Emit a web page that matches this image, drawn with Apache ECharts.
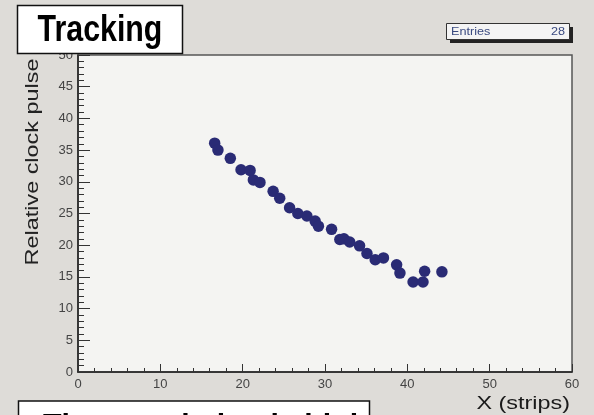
<!DOCTYPE html>
<html>
<head>
<meta charset="utf-8">
<script src="https://cdn.jsdelivr.net/npm/echarts@6/dist/echarts.min.js"></script>
<style>
html,body{margin:0;padding:0;background:#dedcd8;}
#c{width:594px;height:415px;}
</style>
</head>
<body>
<div id="c"></div>
<script>
// Data
var stripX = [16.6, 17.0, 18.5, 19.8, 20.9, 21.3, 22.1, 23.7, 24.5, 25.7, 26.7, 27.8, 28.8, 29.2,
              30.8, 31.8, 32.3, 33.0, 34.2, 35.1, 36.1, 37.1, 38.7, 39.1, 40.7, 41.9, 42.1, 44.2];
var clockPulse = [36.1, 35.0, 33.7, 31.9, 31.8, 30.3, 29.9, 28.5, 27.4, 25.9, 25.0, 24.6, 23.8, 23.0,
                  22.5, 20.9, 21.0, 20.5, 19.9, 18.7, 17.7, 18.0, 16.9, 15.6, 14.2, 14.2, 15.9, 15.8];
var xTitle = 'X (strips)';
var yTitle = 'Relative clock pulse';
var headerText = 'Tracking';
var footerText = 'The correlation is high';
var entriesLabel = 'Entries';
var entriesCount = '28';

var points = stripX.map(function (x, i) { return [x, clockPulse[i]]; });

var chart = echarts.init(document.getElementById('c'));
var tickFont = 'Liberation Sans, Arial, sans-serif';
chart.setOption({
  backgroundColor: '#dedcd8',
  animation: false,
  grid: {
    left: 78, right: 22, top: 55, bottom: 43,
    show: true, backgroundColor: '#f4f4f2', borderColor: '#555', borderWidth: 1.5
  },
  xAxis: {
    type: 'value', min: 0, max: 60, interval: 10,
    axisLine: { show: true, onZero: false, lineStyle: { color: '#222', width: 1.5 } },
    axisTick: { show: true, inside: true, length: 8, lineStyle: { color: '#333', width: 1 } },
    minorTick: { show: true, splitNumber: 5, length: 4, lineStyle: { color: '#333', width: 1 } },
    splitLine: { show: false },
    axisLabel: { color: '#444', fontSize: 13, fontFamily: tickFont, margin: 6 }
  },
  yAxis: {
    type: 'value', min: 0, max: 50, interval: 5,
    axisLine: { show: true, onZero: false, lineStyle: { color: '#222', width: 1.5 } },
    axisTick: { show: true, inside: true, length: 12, lineStyle: { color: '#333', width: 1 } },
    minorTick: { show: true, splitNumber: 5, length: 6, lineStyle: { color: '#333', width: 1 } },
    splitLine: { show: false },
    axisLabel: { color: '#444', fontSize: 13, fontFamily: tickFont, margin: 5 }
  },
  series: [{
    type: 'scatter',
    data: points,
    symbol: 'circle',
    symbolSize: 11.5,
    itemStyle: { color: '#2a2b75', opacity: 1 }
  }],
  graphic: [
    {
      type: 'text', z: 50,
      x: 33, y: 162, rotation: Math.PI / 2, scaleX: 1.3,
      style: { text: yTitle, fontSize: 18, fontFamily: tickFont, fill: '#222',
               textAlign: 'center', textVerticalAlign: 'middle' }
    },
    {
      type: 'text', z: 50,
      x: 570, y: 404, scaleX: 1.3,
      style: { text: xTitle, fontSize: 18, fontFamily: tickFont, fill: '#1a1a1a',
               textAlign: 'right', textVerticalAlign: 'middle' }
    },
    // Tracking header box
    {
      type: 'rect', z: 100,
      shape: { x: 17.5, y: 5.5, width: 165, height: 48 },
      style: { fill: '#ffffff', stroke: '#111', lineWidth: 1.5 }
    },
    {
      type: 'text', z: 101,
      x: 100, y: 31, scaleX: 0.82,
      style: { text: headerText, fontSize: 37, fontWeight: 'bold', fontFamily: tickFont,
               fill: '#000', textAlign: 'center', textVerticalAlign: 'middle' }
    },
    // Footer box (cut off by the picture edge)
    {
      type: 'rect', z: 100,
      shape: { x: 18.5, y: 401, width: 351, height: 60 },
      style: { fill: '#ffffff', stroke: '#111', lineWidth: 1.5 }
    },
    {
      type: 'text', z: 101,
      x: 43, y: 430, scaleX: 0.82,
      style: { text: footerText, fontSize: 37, fontWeight: 'bold', fontFamily: tickFont,
               fill: '#000', textAlign: 'left', textVerticalAlign: 'middle' }
    },
    // Entries stats box with shadow
    {
      type: 'rect', z: 60,
      shape: { x: 450, y: 27, width: 123, height: 16 },
      style: { fill: '#222' }
    },
    {
      type: 'rect', z: 61,
      shape: { x: 446.5, y: 23.5, width: 123, height: 16 },
      style: { fill: '#f4f4f4', stroke: '#333', lineWidth: 1 }
    },
    {
      type: 'text', z: 62,
      x: 451, y: 32, scaleX: 1.15,
      style: { text: entriesLabel, fontSize: 11, fontFamily: tickFont, fill: '#3a4a80',
               textAlign: 'left', textVerticalAlign: 'middle' }
    },
    {
      type: 'text', z: 62,
      x: 565, y: 32, scaleX: 1.15,
      style: { text: entriesCount, fontSize: 11, fontFamily: tickFont, fill: '#3a4a80',
               textAlign: 'right', textVerticalAlign: 'middle' }
    }
  ]
});
</script>
</body>
</html>
